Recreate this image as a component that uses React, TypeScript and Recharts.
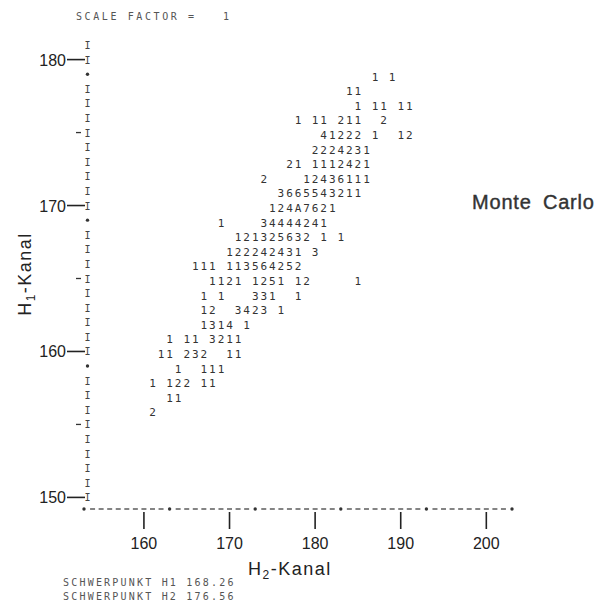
import React from 'react';
import { ScatterChart, Scatter, XAxis, YAxis } from 'recharts';

// Line-printer histogram: each row is one H1 channel, each column one H2 channel.
const rowH1 = [179, 178, 177, 176, 175, 174, 173, 172, 171, 170, 169, 168, 167, 166, 165, 164, 163, 162, 161, 160, 159, 158, 157, 156];
const rowStart = [187, 184, 185, 178, 181, 180, 177, 174, 176, 175, 169, 171, 170, 166, 168, 167, 167, 167, 163, 162, 164, 161, 163, 161];
const rowText = [
  '1 1',
  '11',
  '1 11 11',
  '1 11 211  2',
  '41222 1  12',
  '2224231',
  '21 1112421',
  '2    12436111',
  '3665543211',
  '124A7621',
  '1    34444241',
  '121325632 1 1',
  '122242431 3',
  '111 113564252',
  '1121 1251 12     1',
  '1 1   331  1',
  '12  3423 1',
  '1314 1',
  '1 11 3211',
  '11 232  11',
  '1  111',
  '1 122 11',
  '11',
  '2',
];

const xTicks = [160, 170, 180, 190, 200];
const yTicks = [150, 160, 170, 180];
const xDomain = [153, 203];
const yDomain = [149, 181];
const xAxisDots = [153, 163, 173, 183, 193, 203];
const yAxisDots = [179, 169, 159];
const yMinorTicks = [175, 165, 155];

const cells = rowH1.flatMap((h1, r) =>
  rowText[r]
    .split('')
    .map((ch, i) => ({ h2: rowStart[r] + i, h1, ch }))
    .filter((d) => d.ch !== ' ')
);

const yAxisColumn: { h2: number; h1: number; ch: string; minor: boolean }[] = [];
for (let v = yDomain[0] + 1; v <= yDomain[1]; v++) {
  yAxisColumn.push({ h2: xDomain[0], h1: v, ch: yAxisDots.includes(v) ? '•' : 'I', minor: yMinorTicks.includes(v) });
}
const xAxisRow: { h2: number; h1: number; ch: string }[] = [];
for (let c = xDomain[0]; c <= xDomain[1]; c++) {
  xAxisRow.push({ h2: c, h1: yDomain[0], ch: xAxisDots.includes(c) ? '•' : '-' });
}

const PRINT = '#333';
const INK = '#222';
const MONO = '"DejaVu Sans Mono", monospace';
const SANS = '"Liberation Sans", Arial, sans-serif';

const DigitShape = (p: any) => (
  <text x={p.cx} y={p.cy + 6.5} textAnchor="middle" fontFamily={MONO} fontSize={11} fill={PRINT}>
    {p.payload.ch}
  </text>
);

const YColShape = (p: any) => {
  const x = p.cx + 3.5;
  return (
    <g>
      {p.payload.ch === '•' ? (
        <circle cx={x} cy={p.cy} r={1.7} fill={PRINT} />
      ) : (
        <text x={x} y={p.cy + 4} textAnchor="middle" fontFamily={MONO} fontSize={10} fill="#444">
          I
        </text>
      )}
      {p.payload.minor && <line x1={p.cx - 8} x2={p.cx - 3} y1={p.cy} y2={p.cy} stroke={PRINT} strokeWidth={1.3} />}
    </g>
  );
};

const XRowShape = (p: any) => {
  const y = p.cy - 3;
  return p.payload.ch === '•' ? (
    <circle cx={p.cx} cy={y} r={1.7} fill={PRINT} />
  ) : (
    <line x1={p.cx - 2.5} x2={p.cx + 2.5} y1={y} y2={y} stroke={PRINT} strokeWidth={1.2} />
  );
};

const XTick = (p: any) => {
  const { x, y, payload } = p;
  return (
    <g>
      <line x1={x} x2={x} y1={y} y2={y + 17} stroke={INK} strokeWidth={1.6} />
      <text x={x} y={y + 37} textAnchor="middle" fontFamily={SANS} fontSize={16} fill={INK}>
        {payload.value}
      </text>
    </g>
  );
};

const YTick = (p: any) => {
  const { x, y, payload } = p;
  return (
    <g>
      <line x1={x - 17} x2={x + 1} y1={y} y2={y} stroke={INK} strokeWidth={1.6} />
      <text x={x - 18} y={y + 6} textAnchor="end" fontFamily={SANS} fontSize={16} fill={INK}>
        {payload.value}
      </text>
    </g>
  );
};

export default function App() {
  return (
    <div style={{ position: 'absolute', left: 0, top: 0, width: 608, height: 607, background: '#fff' }}>
      <ScatterChart width={608} height={607} margin={{ top: 45, right: 96, bottom: 55, left: 24 }}>
        <XAxis
          type="number"
          dataKey="h2"
          domain={xDomain}
          ticks={xTicks}
          interval={0}
          height={40}
          axisLine={false}
          tickLine={false}
          tickSize={0}
          tickMargin={0}
          tick={<XTick />}
        />
        <YAxis
          type="number"
          dataKey="h1"
          domain={yDomain}
          ticks={yTicks}
          interval={0}
          width={60}
          axisLine={false}
          tickLine={false}
          tickSize={0}
          tickMargin={0}
          tick={<YTick />}
        />
        <Scatter data={xAxisRow} shape={<XRowShape />} isAnimationActive={false} />
        <Scatter data={yAxisColumn} shape={<YColShape />} isAnimationActive={false} />
        <Scatter data={cells} shape={<DigitShape />} isAnimationActive={false} />
      </ScatterChart>
      <svg width={608} height={607} style={{ position: 'absolute', left: 0, top: 0, pointerEvents: 'none' }}>
        <text x={76} y={20} fontFamily={MONO} fontSize={10} letterSpacing={2.6} fill="#555">
          SCALE FACTOR =
        </text>
        <text x={226} y={20} textAnchor="middle" fontFamily={MONO} fontSize={10} fill="#555">
          1
        </text>
        <text
          x={472}
          y={209}
          fontFamily={SANS}
          fontSize={20}
          letterSpacing={0.8}
          wordSpacing={5}
          fill="#333"
          stroke="#333"
          strokeWidth={0.4}
        >
          Monte Carlo
        </text>
        <text x={248} y={575} fontFamily={SANS} fontSize={18} letterSpacing={1.5} fill={INK}>
          H<tspan fontSize={12} dy={4}>2</tspan>
          <tspan dy={-4}>-Kanal</tspan>
        </text>
        <text
          x={31}
          y={274}
          transform="rotate(-90 31 274)"
          textAnchor="middle"
          fontFamily={SANS}
          fontSize={18}
          letterSpacing={1.5}
          fill={INK}
        >
          H<tspan fontSize={12} dy={4}>1</tspan>
          <tspan dy={-4}>-Kanal</tspan>
        </text>
        <text x={63} y={586} fontFamily={MONO} fontSize={10} letterSpacing={2.2} fill="#555">
          SCHWERPUNKT H1 168.26
        </text>
        <text x={63} y={600} fontFamily={MONO} fontSize={10} letterSpacing={2.2} fill="#555">
          SCHWERPUNKT H2 176.56
        </text>
      </svg>
    </div>
  );
}
